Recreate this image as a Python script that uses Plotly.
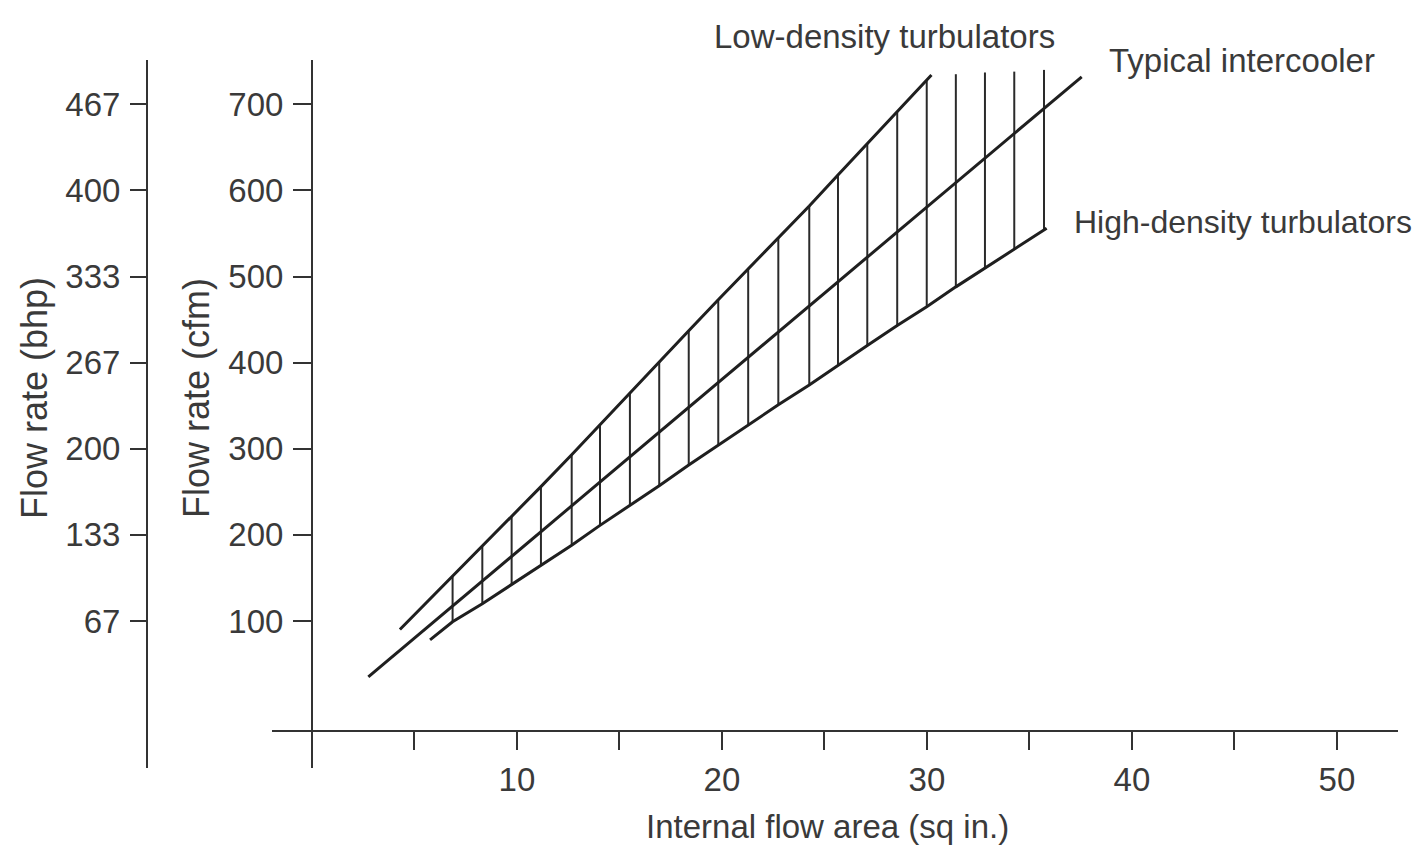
import plotly.graph_objects as go

# ---------------- data ----------------
# x positions of the vertical hatch lines (internal flow area, sq in.)
hatch_x = [6.86, 8.31, 9.74, 11.17, 12.67, 14.05, 15.51, 16.94, 18.38, 19.82, 21.28,
           22.75, 24.26, 25.66, 27.09, 28.55, 29.99, 31.41, 32.83, 34.26, 35.71]
# top and bottom of each hatch line (cfm)
hatch_top = [152, 186, 221, 256, 293, 328, 365, 401, 437, 473, 509,
             545, 582, 618, 654, 691, 728, 735, 737, 738, 740]
hatch_bottom = [99, 120, 142, 165, 188, 211, 234, 257, 281, 304, 327,
                351, 374, 397, 420, 443, 465, 488, 510, 532, 554]

# Low-density turbulators (upper boundary)
low_x = [4.29, 6.86, 8.31, 9.74, 11.17, 12.67, 14.05, 15.51, 16.94, 18.38, 19.82,
         21.28, 22.75, 24.26, 25.66, 27.09, 28.55, 29.99, 30.22]
low_y = [90, 152, 186, 221, 256, 293, 328, 365, 401, 437, 473,
         509, 545, 582, 618, 654, 691, 728, 734]

# Typical intercooler (middle line)
typ_x = [2.75, 19.82, 37.55]
typ_y = [35, 377, 732]

# High-density turbulators (lower boundary)
high_x = [5.76, 6.86, 8.31, 9.74, 11.17, 12.67, 14.05, 15.51, 16.94, 18.38, 19.82,
          21.28, 22.75, 24.26, 25.66, 27.09, 28.55, 29.99, 31.41, 32.83, 34.26, 35.71, 35.84]
high_y = [78, 99, 120, 142, 165, 188, 211, 234, 257, 281, 304,
          327, 351, 374, 397, 420, 443, 465, 488, 510, 532, 554, 556]

# axis ticks
x_tick_vals = [5, 10, 15, 20, 25, 30, 35, 40, 45, 50]
x_tick_labels = ["", "10", "", "20", "", "30", "", "40", "", "50"]
cfm_tick_vals = [100, 200, 300, 400, 500, 600, 700]
cfm_tick_labels = ["100", "200", "300", "400", "500", "600", "700"]
bhp_tick_labels = ["67", "133", "200", "267", "333", "400", "467"]

# ---------------- styling ----------------
FONT = "Liberation Sans, Arial, Helvetica, sans-serif"
TXT = "#3a3a3a"
LINE = "#1f1f1f"
AX = "#333333"
FS = 33
FS_YT = 36

# hatch segments
hx, hy = [], []
for x, b, t in zip(hatch_x, hatch_bottom, hatch_top):
    hx += [x, x, None]
    hy += [b, t, None]

fig = go.Figure()
fig.add_trace(go.Scatter(x=hx, y=hy, mode="lines",
                         line=dict(color="#2a2a2a", width=2),
                         showlegend=False, hoverinfo="skip"))
for xs, ys in [(low_x, low_y), (typ_x, typ_y), (high_x, high_y)]:
    fig.add_trace(go.Scatter(x=xs, y=ys, mode="lines",
                             line=dict(color=LINE, width=3),
                             showlegend=False, hoverinfo="skip"))
# invisible trace to materialise the bhp axis
fig.add_trace(go.Scatter(x=[10], y=[100], yaxis="y2", mode="markers",
                         marker=dict(opacity=0), showlegend=False, hoverinfo="skip"))

L, R, T, B = 140, 25, 60, 77
W, H = 1423, 845
pw = W - L - R
ph = H - T - B

xr = [-1.95, 52.98]
yr = [-70.8, 751.5]

fig.update_layout(
    width=W, height=H,
    margin=dict(l=L, r=R, t=T, b=B, pad=0),
    paper_bgcolor="white", plot_bgcolor="white",
    font=dict(family=FONT, size=FS, color=TXT),
    xaxis=dict(
        domain=[(272 - L) / pw, 1], range=xr, anchor="free",
        position=(768 - 731) / ph,
        showline=True, linecolor=AX, linewidth=2,
        ticks="outside", ticklen=18, tickwidth=2, tickcolor=AX,
        tickmode="array", tickvals=x_tick_vals, ticktext=x_tick_labels,
        ticklabelstandoff=1,
        showgrid=False, zeroline=False,
        tickfont=dict(size=FS, color=TXT, family=FONT),
    ),
    yaxis=dict(
        range=yr, anchor="free", position=(312 - L) / pw,
        showline=True, linecolor=AX, linewidth=2,
        ticks="outside", ticklen=18, tickwidth=2, tickcolor=AX,
        tickmode="array", tickvals=cfm_tick_vals, ticktext=cfm_tick_labels,
        ticklabelstandoff=3,
        showgrid=False, zeroline=False,
        tickfont=dict(size=FS, color=TXT, family=FONT),
    ),
    yaxis2=dict(
        range=yr, overlaying="y", anchor="free", position=(147 - L) / pw,
        side="left",
        showline=True, linecolor=AX, linewidth=2,
        ticks="outside", ticklen=16, tickwidth=2, tickcolor=AX,
        tickmode="array", tickvals=cfm_tick_vals, ticktext=bhp_tick_labels,
        ticklabelstandoff=3,
        showgrid=False, zeroline=False,
        tickfont=dict(size=FS, color=TXT, family=FONT),
    ),
)

annotations = [
    # axis titles
    dict(text="Internal flow area (sq in.)", x=(827 - L) / pw, y=(768 - 826) / ph,
         textangle=0, size=FS),
    dict(text="Flow rate (cfm)", x=(196 - L) / pw, y=(768 - 398) / ph,
         textangle=-90, size=FS_YT),
    dict(text="Flow rate (bhp)", x=(34 - L) / pw, y=(768 - 398) / ph,
         textangle=-90, size=FS_YT),
    # curve labels
    dict(text="Low-density turbulators", x=(884 - L) / pw, y=(768 - 37) / ph,
         textangle=0, size=FS),
]
ann = []
for a in annotations:
    ann.append(dict(text=a["text"], xref="paper", yref="paper", x=a["x"], y=a["y"],
                    showarrow=False, xanchor="center", yanchor="middle",
                    textangle=a["textangle"],
                    font=dict(family=FONT, size=a["size"], color=TXT)))
ann += [
    dict(text="Typical intercooler", x=38.8, y=751, xref="x", yref="y",
         showarrow=False, xanchor="left", yanchor="middle",
         font=dict(family=FONT, size=FS, color=TXT)),
    dict(text="High-density turbulators", x=37.1, y=563, xref="x", yref="y",
         showarrow=False, xanchor="left", yanchor="middle",
         font=dict(family=FONT, size=32, color=TXT)),
]
fig.update_layout(annotations=ann)

fig.write_html("out.html",
               config={"displayModeBar": False},
               post_script="document.body.style.margin='0';document.body.style.overflow='hidden';")
